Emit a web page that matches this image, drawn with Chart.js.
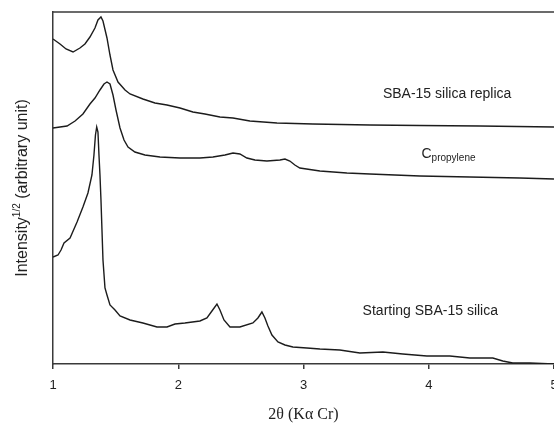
<!DOCTYPE html>
<html>
<head>
<meta charset="utf-8">
<script src="https://cdn.jsdelivr.net/npm/chart.js@4.4.1/dist/chart.umd.min.js"></script>
<style>
  html, body { margin: 0; padding: 0; background: #fff; }
</style>
</head>
<body>
<canvas id="xrd" width="554" height="424"></canvas>
<script>
// DATA (2theta in degrees, intensity^1/2 in arbitrary units)
const replicaX = [1.0, 1.056, 1.104, 1.16, 1.215, 1.255, 1.295, 1.335, 1.359, 1.383, 1.399, 1.431, 1.455, 1.479, 1.519, 1.575, 1.615, 1.718, 1.814, 1.91, 2.014, 2.117, 2.213, 2.333, 2.437, 2.572, 2.788, 3.075, 3.53, 3.929, 4.408, 5.0];
const replicaY = [325, 320, 315, 312, 316, 320, 327, 336, 344, 347, 343, 326, 309, 294, 282, 274, 270, 265, 261, 259, 256, 252, 250, 247, 246, 243, 241, 240, 239, 238.5, 238, 237];

const propyleneX = [1.0, 1.056, 1.112, 1.176, 1.239, 1.295, 1.335, 1.375, 1.407, 1.431, 1.455, 1.479, 1.503, 1.535, 1.567, 1.599, 1.654, 1.734, 1.854, 2.014, 2.173, 2.277, 2.373, 2.437, 2.492, 2.548, 2.612, 2.708, 2.812, 2.852, 2.891, 2.931, 2.971, 3.131, 3.346, 3.53, 3.929, 4.328, 4.727, 5.0];
const propyleneY = [236, 237, 238, 243, 250, 260, 266, 274, 280, 282, 280, 269, 254, 236, 224, 217, 212, 209, 207, 206, 206, 207, 209, 211, 210, 206, 204, 203, 204, 205, 203, 199, 196, 193, 191, 190, 188, 187, 186, 185];

const silicaX = [1.0, 1.04, 1.064, 1.088, 1.136, 1.192, 1.239, 1.279, 1.311, 1.327, 1.339, 1.349, 1.359, 1.367, 1.375, 1.383, 1.391, 1.399, 1.415, 1.431, 1.455, 1.495, 1.535, 1.615, 1.718, 1.83, 1.91, 1.974, 2.053, 2.173, 2.229, 2.269, 2.309, 2.333, 2.365, 2.413, 2.492, 2.596, 2.636, 2.668, 2.692, 2.716, 2.748, 2.796, 2.852, 2.915, 3.027, 3.131, 3.29, 3.45, 3.634, 3.793, 3.985, 4.168, 4.328, 4.512, 4.591, 4.671, 4.807, 5.0];
const silicaY = [107, 109, 114, 121, 126, 142, 157, 171, 189, 209, 229, 237, 232, 209, 189, 164, 134, 104, 76, 69, 59, 54, 48, 44, 41, 37, 37, 40, 41, 43, 46, 53, 60, 54, 44, 37, 37, 41, 46, 52, 46, 38, 29, 22, 19, 17, 16, 15, 14, 11, 12, 10, 8, 8, 6, 6, 3, 1, 1, 0];

const xTicks = [1, 2, 3, 4, 5];

// curve labels, anchored in data units (left edge, baseline)
const notes = [
  { text: 'SBA-15 silica replica', x: 3.634, y: 266 },
  { text: 'C', sub: 'propylene', x: 3.942, y: 206 },
  { text: 'Starting SBA-15 silica', x: 3.472, y: 49 }
];

const lineColor = '#1c1c1c';
const axisColor = '#3a3a3a';
const sans = '"Liberation Sans", Arial, sans-serif';

const toPoints = (xs, ys) => xs.map((v, i) => ({ x: v, y: ys[i] }));

const curve = (label, xs, ys) => ({
  label,
  data: toPoints(xs, ys),
  borderColor: lineColor,
  borderWidth: 1.4,
  pointRadius: 0,
  tension: 0,
  fill: false
});

// TEXT + FRAME
const textLayer = {
  id: 'textLayer',
  afterDraw(chart) {
    const { ctx, chartArea: a, scales: { x, y } } = chart;
    ctx.save();

    // top frame line
    ctx.strokeStyle = axisColor;
    ctx.lineWidth = 1.5;
    ctx.beginPath();
    ctx.moveTo(a.left, a.top);
    ctx.lineTo(a.right, a.top);
    ctx.stroke();

    ctx.fillStyle = '#222';
    ctx.textBaseline = 'alphabetic';
    ctx.textAlign = 'left';

    notes.forEach(n => {
      const px = x.getPixelForValue(n.x);
      const py = y.getPixelForValue(n.y);
      ctx.font = '14px ' + sans;
      ctx.fillText(n.text, px, py);
      if (n.sub) {
        const w = ctx.measureText(n.text).width;
        ctx.font = '10px ' + sans;
        ctx.fillText(n.sub, px + w, py + 3);
      }
    });

    // x title
    ctx.font = '16px "Liberation Serif", "Times New Roman", serif';
    ctx.textAlign = 'center';
    ctx.fillText('2θ (Kα Cr)', (a.left + a.right) / 2, 419);

    // y title with superscript
    ctx.translate(27, 188);
    ctx.rotate(-Math.PI / 2);
    ctx.textAlign = 'left';
    ctx.font = '16px ' + sans;
    const w1 = ctx.measureText('Intensity').width;
    const w3 = ctx.measureText(' (arbitrary unit)').width;
    ctx.font = '10px ' + sans;
    const w2 = ctx.measureText('1/2').width;
    let sx = -(w1 + w2 + w3) / 2;
    ctx.font = '16px ' + sans;
    ctx.fillText('Intensity', sx, 0);
    ctx.font = '10px ' + sans;
    ctx.fillText('1/2', sx + w1, -7);
    ctx.font = '16px ' + sans;
    ctx.fillText(' (arbitrary unit)', sx + w1 + w2, 0);

    ctx.restore();
  }
};

// CHART
new Chart(document.getElementById('xrd'), {
  type: 'line',
  data: {
    datasets: [
      curve('SBA-15 silica replica', replicaX, replicaY),
      curve('Cpropylene', propyleneX, propyleneY),
      curve('Starting SBA-15 silica', silicaX, silicaY)
    ]
  },
  options: {
    responsive: false,
    animation: false,
    layout: { padding: { top: 12, right: 0, bottom: 0, left: 0 } },
    plugins: {
      legend: { display: false },
      tooltip: { enabled: false }
    },
    scales: {
      x: {
        type: 'linear',
        min: 1,
        max: 5,
        afterBuildTicks: scale => {
          scale.ticks = xTicks.map(v => ({ value: v }));
        },
        afterFit: scale => {
          scale.height = 60;
          scale.paddingLeft = 0;
          scale.paddingRight = 0;
        },
        ticks: {
          color: '#222',
          font: { size: 13, family: sans },
          padding: 9,
          maxRotation: 0
        },
        grid: {
          drawOnChartArea: false,
          drawTicks: true,
          tickLength: 5,
          color: axisColor,
          lineWidth: 1.5
        },
        border: { display: true, color: axisColor, width: 1.5 }
      },
      y: {
        min: 0,
        max: 352,
        afterFit: scale => {
          scale.width = 53;
          scale.paddingTop = 0;
          scale.paddingBottom = 0;
        },
        ticks: { display: false },
        grid: { display: false, drawTicks: false },
        border: { display: true, color: axisColor, width: 1.5 }
      }
    }
  },
  plugins: [textLayer]
});
</script>
</body>
</html>
